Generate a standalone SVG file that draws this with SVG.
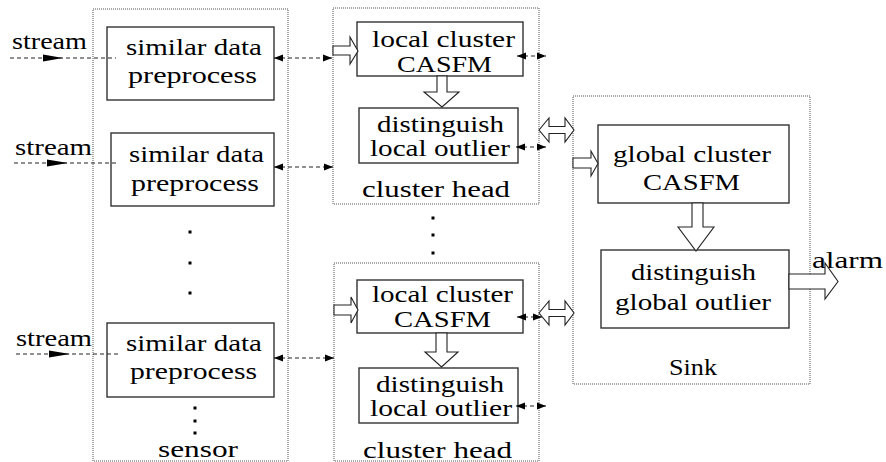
<svg xmlns="http://www.w3.org/2000/svg" width="886" height="462" viewBox="0 0 886 462">
<defs>
<style>
.cont{fill:none;stroke:#555;stroke-width:1;stroke-dasharray:1,1}
.box{fill:#fff;stroke:#333;stroke-width:1.4}
text{font-family:"Times New Roman",Times,Tinos,"Liberation Serif","DejaVu Serif","Noto Serif",FreeSerif,serif;font-size:24px;fill:#000}
.dash{fill:none;stroke:#222;stroke-width:1.1;stroke-dasharray:4,3}
.hol{fill:#fff;stroke:#222;stroke-width:1.1;stroke-linejoin:miter}
.dot{fill:#000}
.ah{fill:#000}
</style>
<marker id="tri" viewBox="0 0 10 8" refX="10" refY="4" markerWidth="9" markerHeight="8" markerUnits="userSpaceOnUse" orient="auto-start-reverse">
<path d="M0,0 L10,4 L0,8 z" fill="#000"/>
</marker>
</defs>

<g id="sensor">
<rect class="cont" x="93" y="9" width="195" height="452"/>
<text x="158" y="457" textLength="80" lengthAdjust="spacingAndGlyphs">sensor</text>
<rect class="dot" x="188.5" y="230.5" width="3" height="3"/>
<rect class="dot" x="188.5" y="261.5" width="3" height="3"/>
<rect class="dot" x="188.5" y="291.5" width="3" height="3"/>
<rect class="dot" x="193.5" y="406.5" width="3" height="3"/>
<rect class="dot" x="193.5" y="419.5" width="3" height="3"/>
<rect class="dot" x="193.5" y="431.5" width="3" height="3"/>
</g>
<g id="pre1">
<rect class="box" x="107" y="27" width="167" height="73"/>
<text x="126" y="55" textLength="136" lengthAdjust="spacingAndGlyphs">similar data</text>
<text x="128" y="83" textLength="129" lengthAdjust="spacingAndGlyphs">preprocess</text>
</g>
<g id="pre2">
<rect class="box" x="111" y="133" width="163" height="73"/>
<text x="129" y="162" textLength="135" lengthAdjust="spacingAndGlyphs">similar data</text>
<text x="131" y="191" textLength="128" lengthAdjust="spacingAndGlyphs">preprocess</text>
</g>
<g id="pre3">
<rect class="box" x="107" y="323" width="167" height="74"/>
<text x="126" y="351" textLength="136" lengthAdjust="spacingAndGlyphs">similar data</text>
<text x="130" y="379" textLength="127" lengthAdjust="spacingAndGlyphs">preprocess</text>
</g>
<g id="stream1"><text x="12" y="49" textLength="75" lengthAdjust="spacingAndGlyphs">stream</text></g>
<g id="stream2"><text x="15" y="155" textLength="77" lengthAdjust="spacingAndGlyphs">stream</text></g>
<g id="stream3"><text x="16" y="346" textLength="76" lengthAdjust="spacingAndGlyphs">stream</text></g>

<g id="ch1">
<rect class="cont" x="333" y="8" width="206" height="196"/>
<text x="362" y="197" textLength="148" lengthAdjust="spacingAndGlyphs">cluster head</text>
</g>
<g id="lc1">
<rect class="box" x="357" y="22" width="166" height="54"/>
<text x="372" y="47" textLength="143" lengthAdjust="spacingAndGlyphs">local cluster</text>
<text x="397" y="72" textLength="95" lengthAdjust="spacingAndGlyphs">CASFM</text>
</g>
<g id="lo1">
<rect class="box" x="359" y="108" width="159" height="55"/>
<text x="377" y="132" textLength="127" lengthAdjust="spacingAndGlyphs">distinguish</text>
<text x="370" y="156" textLength="140" lengthAdjust="spacingAndGlyphs">local outlier</text>
</g>
<g id="midDots">
<rect class="dot" x="431.5" y="216.5" width="3" height="3"/>
<rect class="dot" x="431.5" y="233.5" width="3" height="3"/>
<rect class="dot" x="431.5" y="251.5" width="3" height="3"/>
</g>
<g id="ch2">
<rect class="cont" x="334" y="263" width="205" height="198"/>
<text x="363" y="458" textLength="149" lengthAdjust="spacingAndGlyphs">cluster head</text>
</g>
<g id="lc2">
<rect class="box" x="357" y="280" width="166" height="53"/>
<text x="372" y="302" textLength="141" lengthAdjust="spacingAndGlyphs">local cluster</text>
<text x="394" y="327" textLength="97" lengthAdjust="spacingAndGlyphs">CASFM</text>
</g>
<g id="lo2">
<rect class="box" x="359" y="368" width="159" height="55"/>
<text x="376" y="392" textLength="128" lengthAdjust="spacingAndGlyphs">distinguish</text>
<text x="370" y="416" textLength="142" lengthAdjust="spacingAndGlyphs">local outlier</text>
</g>

<g id="sink">
<rect class="cont" x="573" y="96" width="237" height="288"/>
<text x="669" y="375" textLength="48" lengthAdjust="spacingAndGlyphs">Sink</text>
</g>
<g id="gc">
<rect class="box" x="598" y="125" width="191" height="78"/>
<text x="613" y="162" textLength="158" lengthAdjust="spacingAndGlyphs">global cluster</text>
<text x="643" y="190" textLength="97" lengthAdjust="spacingAndGlyphs">CASFM</text>
</g>
<g id="go">
<rect class="box" x="601" y="250" width="188" height="78"/>
<text x="631" y="280" textLength="125" lengthAdjust="spacingAndGlyphs">distinguish</text>
<text x="615" y="310" textLength="156" lengthAdjust="spacingAndGlyphs">global outlier</text>
</g>
<g id="alarmLabel"><text x="812" y="268" textLength="71" lengthAdjust="spacingAndGlyphs">alarm</text></g>

<g id="connectors">
<line class="dash" x1="10" y1="58" x2="116" y2="58"/>
<polygon class="ah" points="43,54.5 63,58 43,61.5"/>
<line class="dash" x1="14" y1="163" x2="118" y2="163"/>
<polygon class="ah" points="47,159.5 68,163 47,166.5"/>
<line class="dash" x1="16" y1="354" x2="120" y2="354"/>
<polygon class="ah" points="49,350.5 70,354 49,357.5"/>
<line class="dash" x1="274" y1="58" x2="332" y2="58" marker-start="url(#tri)" marker-end="url(#tri)"/>
<line class="dash" x1="274" y1="167" x2="333" y2="167" marker-start="url(#tri)" marker-end="url(#tri)"/>
<line class="dash" x1="274" y1="358" x2="334" y2="358" marker-start="url(#tri)" marker-end="url(#tri)"/>
<line class="dash" x1="517" y1="56" x2="546" y2="56" stroke-dasharray="2,2" marker-start="url(#tri)" marker-end="url(#tri)"/>
<line class="dash" x1="516" y1="147" x2="546" y2="147" stroke-dasharray="2,2" marker-start="url(#tri)" marker-end="url(#tri)"/>
<line class="dash" x1="517" y1="317" x2="542" y2="317" stroke-dasharray="2,2" marker-start="url(#tri)" marker-end="url(#tri)"/>
<line class="dash" x1="516" y1="406" x2="546" y2="406" stroke-dasharray="2,2" marker-start="url(#tri)" marker-end="url(#tri)"/>
<polygon class="hol" points="333,46 350,46 350,37 358,51 350,64 350,55 333,55"/>
<polygon class="hol" points="334,305 351,305 351,297 358,310 351,323 351,315 334,315"/>
<polygon class="hol" points="437,76 447,76 447,92 459,92 442,107 424,92 437,92"/>
<polygon class="hol" points="436,333 447,333 447,352 458,352 441.5,367 425,352 436,352"/>
<polygon class="hol" points="692,203 703,203 703,227 714,227 696,251 678,227 692,227"/>
<polygon class="hol" points="539,130 549,118 549,126.5 565,126.5 565,118 574,130 565,142 565,133.5 549,133.5 549,142"/>
<polygon class="hol" points="539,313 549,301 549,309.5 565,309.5 565,301 574,313 565,325 565,316.5 549,316.5 549,325"/>
<polygon class="hol" points="573,158 591,158 591,151 598,163.5 591,176 591,168 573,168"/>
<polygon class="hol" points="789,274 825,274 825,263 838,281.5 825,299 825,289 789,289"/>
</g>
</svg>
